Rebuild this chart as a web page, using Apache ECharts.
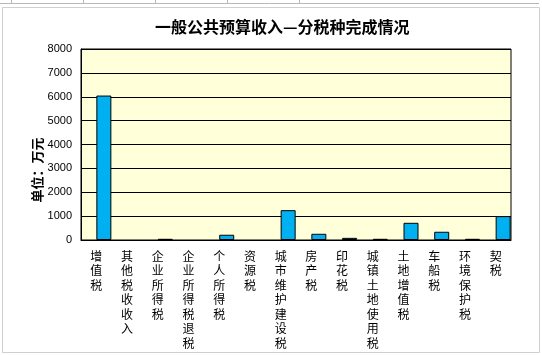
<!DOCTYPE html>
<html><head><meta charset="utf-8">
<script src="https://cdn.jsdelivr.net/npm/echarts@6/dist/echarts.min.js"></script>
<style>html,body{margin:0;padding:0;background:#fff}#c{width:542px;height:355px}</style>
</head><body><div id="c"></div>
<script>
const titleText = '一般公共预算收入—分税种完成情况';
const yAxisName = '单位：万元';
const categories = ['增值税','其他税收收入','企业所得税','企业所得税退税','个人所得税','资源税','城市维护建设税','房产税','印花税','城镇土地使用税','土地增值税','车船税','环境保护税','契税'];
const values = [6050, 0, 50, 0, 220, 0, 1250, 260, 90, 50, 720, 345, 50, 1000];
const yTicks = [0,1000,2000,3000,4000,5000,6000,7000,8000];

const chart = echarts.init(document.getElementById('c'), null, {renderer:'canvas'});
const cjk = '"Noto Sans CJK SC", sans-serif';
chart.setOption({
  animation:false,
  backgroundColor:'#fff',
  title:{text:titleText,left:150,top:14,textStyle:{fontFamily:cjk,fontSize:16,fontWeight:'bold',color:'#000'}},
  graphic:[
    {type:'rect',shape:{x:2.5,y:7.5,width:537,height:345},style:{fill:'none',stroke:'#cfcfcf',lineWidth:1},silent:true},
    {type:'line',shape:{x1:0,y1:3.5,x2:539,y2:3.5},style:{stroke:'#b8b8b8',lineWidth:1},silent:true},
    {type:'line',shape:{x1:11.5,y1:0,x2:11.5,y2:4},style:{stroke:'#b8b8b8'},silent:true},
    {type:'line',shape:{x1:83.5,y1:0,x2:83.5,y2:4},style:{stroke:'#b8b8b8'},silent:true},
    {type:'line',shape:{x1:155.5,y1:0,x2:155.5,y2:4},style:{stroke:'#b8b8b8'},silent:true},
    {type:'line',shape:{x1:227.5,y1:0,x2:227.5,y2:4},style:{stroke:'#b8b8b8'},silent:true},
    {type:'line',shape:{x1:299.5,y1:0,x2:299.5,y2:4},style:{stroke:'#b8b8b8'},silent:true},
    {type:'text',x:37,y:170,rotation:Math.PI/2,silent:true,
      style:{text:yAxisName,fontFamily:cjk,fontSize:13,fontWeight:'bold',fill:'#000',align:'center',verticalAlign:'middle'}}
  ],
  grid:{left:81,right:31,top:49,bottom:115,show:true,backgroundColor:'#FFFFD9',borderColor:'#000',borderWidth:1,containLabel:false},
  xAxis:{type:'category',data:categories,
    axisLine:{show:true,lineStyle:{color:'#000'}},axisTick:{show:false},
    axisLabel:{interval:0,margin:9,fontFamily:cjk,fontSize:12,lineHeight:14.5,color:'#000',verticalAlign:'top',
      formatter:v=>v.split('').join('\n')}},
  yAxis:{type:'value',min:0,max:8000,interval:1000,
    axisLine:{show:true,lineStyle:{color:'#000'}},axisTick:{show:false},
    splitLine:{show:true,lineStyle:{color:'#000',width:1}},
    axisLabel:{margin:9,fontFamily:'Arial, "Liberation Sans", sans-serif',fontSize:11,color:'#000',
      formatter:v=>yTicks.includes(v)?String(v):''}},
  series:[
    {type:'bar',data:categories.map(()=> '-'),barWidth:15,barGap:'0%',silent:true},
    {type:'bar',data:values.map(v=>v===0?'-':v),barWidth:15,barGap:'0%',
    itemStyle:{color:'#00B0F0',borderColor:'#000',borderWidth:1}}]
});
</script></body></html>
